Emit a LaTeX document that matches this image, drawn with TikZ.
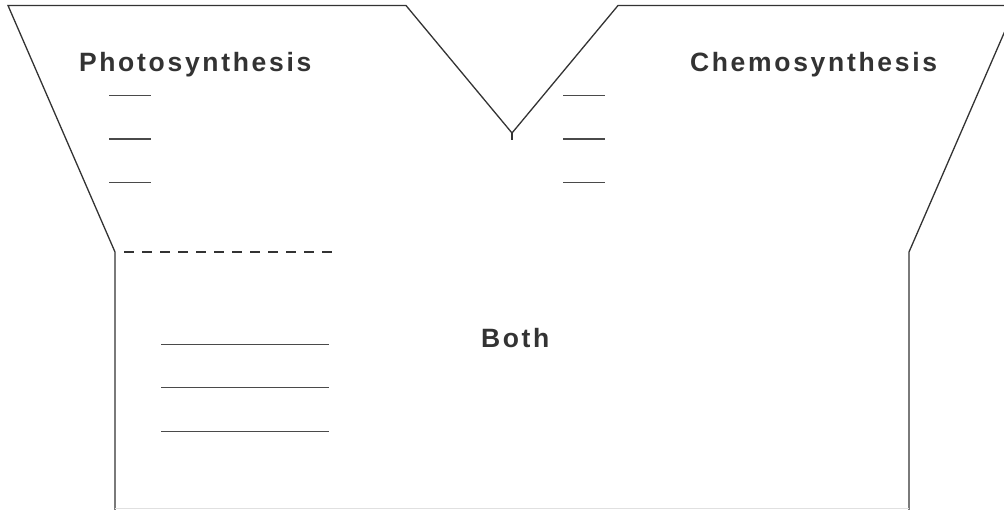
\documentclass[tikz,border=0pt]{standalone}
\usepackage{fontspec}
\newfontfamily\labelfont{Liberation Sans}
\definecolor{ink}{HTML}{333333}
\definecolor{rule}{HTML}{4a4a4a}
\newcommand{\spaced}[1]{\def\spsep{\kern2.7pt}\spacedloop#1\relax}
\def\spacedloop#1{\ifx#1\relax\else#1\spsep\expandafter\spacedloop\fi}
\begin{document}
\begin{tikzpicture}[x=1pt,y=-1pt,
  outline/.style={draw=ink,line width=1.3pt,line join=miter},
  blank/.style={draw=rule,line width=1.1pt},
  title/.style={inner sep=0pt,outer sep=0pt,anchor=base west,text=ink,font=\labelfont\bfseries\fontsize{26.5}{31}\selectfont}]
\useasboundingbox (0,0) rectangle (1004,509);
\clip (0,0) rectangle (1004,509);
% outline
\draw[outline] (115,510) -- (115,252) -- (8,5.5) -- (406,5.5) -- (512,133) -- (618,5.5) -- (1010,5.5);
\draw[outline] (909,510) -- (909,252) -- (1016,5.5);
\draw[draw=ink,line width=2pt] (512,133) -- (512,140);
% faint bottom edge
\draw[draw=black!12,line width=0.8pt] (115,508.6) -- (909,508.6);
% dashed divider
\draw[draw=ink,line width=2.6pt,dash pattern=on 10pt off 8pt] (124,252) -- (332,252);
% short blanks
\foreach \yy in {95.7,139,182.7}{
  \draw[blank] (109,\yy) -- (151,\yy);
  \draw[blank] (563,\yy) -- (605,\yy);
}
% long blanks
\foreach \yy in {344.3,387.7,431.7}{
  \draw[blank,line width=1.3pt] (161,\yy) -- (329,\yy);
}
% labels
\node[title] (photo) at (79,71) {\spaced{Photosynthesis}};
\node[title] (chemo) at (690,71) {\spaced{Chemosynthesis}};
\node[title] (both) at (481,347.5) {\spaced{Both}};
\end{tikzpicture}
\end{document}
